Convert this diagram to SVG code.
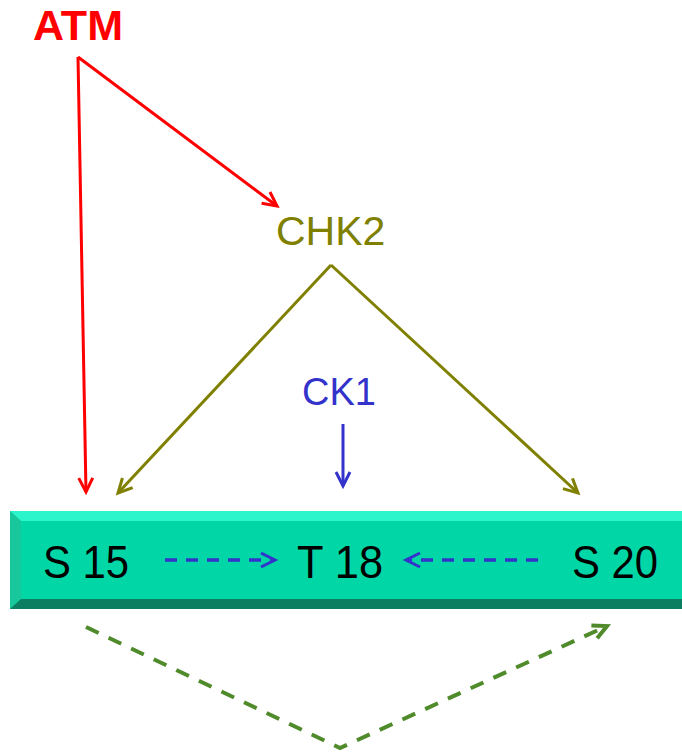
<svg xmlns="http://www.w3.org/2000/svg" width="682" height="755" viewBox="0 0 682 755">
<style>
.lbl{font-family:"Liberation Sans",Arial,sans-serif;}
.res{font-family:"Liberation Sans",Arial,sans-serif;font-size:46px;fill:#000;}
</style>
<defs>
<marker id="mr" viewBox="0 0 16 16" refX="14" refY="8" markerWidth="16" markerHeight="16" markerUnits="userSpaceOnUse" orient="auto" style="overflow:visible">
<path d="M0,1 L14,8 L0,15" fill="none" stroke="#ff0000" stroke-width="3"/>
</marker>
<marker id="mo" viewBox="0 0 16 16" refX="14" refY="8" markerWidth="16" markerHeight="16" markerUnits="userSpaceOnUse" orient="auto" style="overflow:visible">
<path d="M0,1 L14,8 L0,15" fill="none" stroke="#808000" stroke-width="3"/>
</marker>
<marker id="mb" viewBox="0 0 16 16" refX="14" refY="8" markerWidth="16" markerHeight="16" markerUnits="userSpaceOnUse" orient="auto" style="overflow:visible">
<path d="M0,1 L14,8 L0,15" fill="none" stroke="#3333cc" stroke-width="3"/>
</marker>
<marker id="mg" viewBox="0 0 16 16" refX="14" refY="8" markerWidth="16" markerHeight="16" markerUnits="userSpaceOnUse" orient="auto" style="overflow:visible">
<path d="M0,1 L14,8 L0,15" fill="none" stroke="#4f8a2b" stroke-width="4"/>
</marker>
</defs>

<g id="bar">
<rect x="10" y="511" width="672" height="98" fill="#00d6a6"/>
<polygon points="10,511 682,511 682,521 21,521" fill="#2cf5cc"/>
<polygon points="10,511 21,521 21,599 10,609" fill="#19c79c"/>
<polygon points="10,609 21,599 682,599 682,609" fill="#0b7d61"/>
</g>

<g id="ATM"><text class="lbl" x="33" y="40" font-size="43" font-weight="bold" fill="#ff0000">ATM</text></g>
<g id="CHK2"><text class="lbl" x="276" y="245" font-size="41" fill="#808000">CHK2</text></g>
<g id="CK1"><text class="lbl" x="302" y="405" font-size="38" fill="#3333cc">CK1</text></g>
<g id="S15"><text class="res" x="43" y="578" textLength="86" lengthAdjust="spacingAndGlyphs">S 15</text></g>
<g id="T18"><text class="res" x="297" y="578" textLength="86" lengthAdjust="spacingAndGlyphs">T 18</text></g>
<g id="S20"><text class="res" x="572" y="578" textLength="86" lengthAdjust="spacingAndGlyphs">S 20</text></g>

<g id="connectors" fill="none">
<line x1="78" y1="57" x2="86" y2="492" stroke="#ff0000" stroke-width="3" marker-end="url(#mr)"/>
<line x1="78" y1="57" x2="277" y2="206" stroke="#ff0000" stroke-width="3" marker-end="url(#mr)"/>
<line x1="331" y1="265" x2="118" y2="493" stroke="#808000" stroke-width="3" marker-end="url(#mo)"/>
<line x1="331" y1="265" x2="578" y2="493" stroke="#808000" stroke-width="3" marker-end="url(#mo)"/>
<line x1="343" y1="424" x2="343" y2="486" stroke="#3333cc" stroke-width="3" marker-end="url(#mb)"/>
<line x1="165" y1="560" x2="275" y2="560" stroke="#3333cc" stroke-width="3.5" stroke-dasharray="12,9" marker-end="url(#mb)"/>
<line x1="538" y1="560" x2="406" y2="560" stroke="#3333cc" stroke-width="3.5" stroke-dasharray="12,9" marker-end="url(#mb)"/>
<polyline points="86,627 340,748 607,626" stroke="#4f8a2b" stroke-width="4" stroke-dasharray="14,11" marker-end="url(#mg)"/>
</g>
</svg>
